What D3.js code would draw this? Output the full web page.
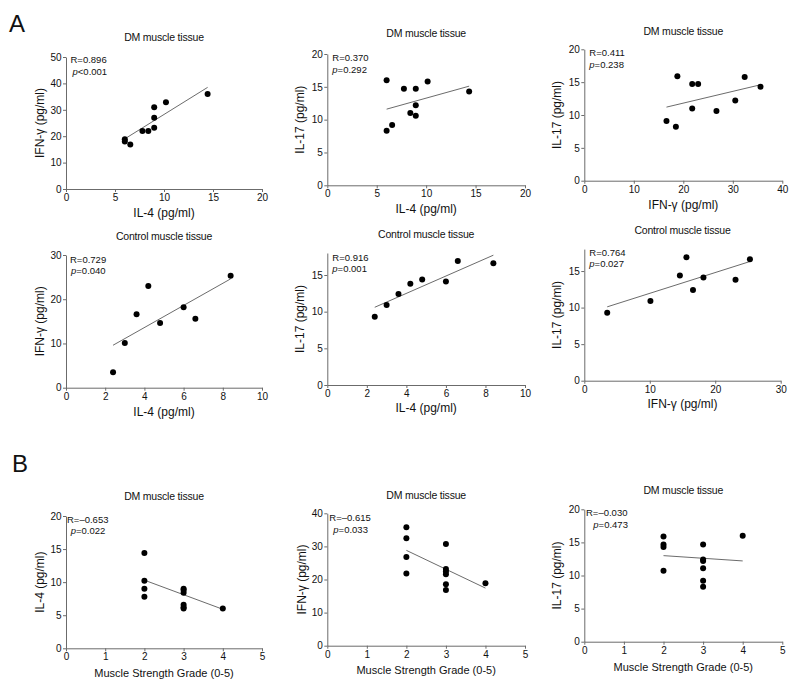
<!DOCTYPE html>
<html>
<head>
<meta charset="utf-8">
<script src="https://cdn.jsdelivr.net/npm/d3@7"></script>
<style>
  html, body { margin: 0; padding: 0; background: #fff; }
  svg { display: block; font-family: Arial, "Liberation Sans", Helvetica, sans-serif; }
</style>
</head>
<body>
<svg id="chart" width="800" height="699"></svg>
<script>
// ---------------- DATA ----------------
const panelTitles = ["DM muscle tissue", "DM muscle tissue", "DM muscle tissue",
  "Control muscle tissue", "Control muscle tissue", "Control muscle tissue",
  "DM muscle tissue", "DM muscle tissue", "DM muscle tissue"];
const xLabels = ["IL-4 (pg/ml)", "IL-4 (pg/ml)", "IFN-\u03b3 (pg/ml)",
  "IL-4 (pg/ml)", "IL-4 (pg/ml)", "IFN-\u03b3 (pg/ml)",
  "Muscle Strength Grade (0-5)", "Muscle Strength Grade (0-5)", "Muscle Strength Grade (0-5)"];
const yLabels = ["IFN-\u03b3 (pg/ml)", "IL-17 (pg/ml)", "IL-17 (pg/ml)",
  "IFN-\u03b3 (pg/ml)", "IL-17 (pg/ml)", "IL-17 (pg/ml)",
  "IL-4 (pg/ml)", "IFN-\u03b3 (pg/ml)", "IL-17 (pg/ml)"];
const rTexts = ["R=0.896", "R=0.370", "R=0.411", "R=0.729", "R=0.916", "R=0.764",
  "R=\u20130.653", "R=\u20130.615", "R=\u20130.030"];
const pOps = ["<", "=", "=", "=", "=", "=", "=", "=", "="];
const pVals = ["0.001", "0.292", "0.238", "0.040", "0.001", "0.027", "0.022", "0.033", "0.473"];

// axis domains and tick labels
const xMax = [20, 20, 40, 10, 10, 30, 5, 5, 5];
const yMax = [50, 20, 20, 30, 18, 18, 20, 40, 20];
const xTicks = [[0,5,10,15,20],[0,5,10,15,20],[0,10,20,30,40],
  [0,2,4,6,8,10],[0,2,4,6,8,10],[0,10,20,30],
  [0,1,2,3,4,5],[0,1,2,3,4,5],[0,1,2,3,4,5]];
const yTicks = [[0,10,20,30,40,50],[0,5,10,15,20],[0,5,10,15,20],
  [0,10,20,30],[0,5,10,15],[0,5,10,15],
  [0,5,10,15,20],[0,10,20,30,40],[0,5,10,15,20]];

// A1: DM, IL-4 vs IFN-gamma
const dmIL4_a = [6.0, 6.0, 6.56, 7.8, 8.4, 9.0, 9.0, 9.0, 10.2, 14.45];
const dmIFN_a = [18.8, 18.0, 16.9, 22.0, 22.0, 23.2, 27.0, 31.0, 32.9, 36.0];
// A2: DM, IL-4 vs IL-17
const dmIL4_b = [6.0, 6.0, 6.56, 7.75, 8.4, 8.95, 8.95, 8.95, 10.15, 14.35];
const dmIL17_b = [16.0, 8.3, 9.2, 14.7, 11.0, 14.7, 12.2, 10.6, 15.8, 14.3];
// A3: DM, IFN-gamma vs IL-17
const dmIFN_c = [16.6, 18.5, 18.8, 21.8, 21.8, 23.0, 26.7, 30.5, 32.4, 35.6];
const dmIL17_c = [9.1, 8.2, 15.9, 14.7, 11.0, 14.7, 10.6, 12.2, 15.8, 14.3];
// A4: Control, IL-4 vs IFN-gamma
const ctIL4_a = [2.4, 3.0, 3.6, 4.2, 4.8, 6.0, 6.6, 8.4];
const ctIFN_a = [3.5, 10.1, 16.6, 23.0, 14.6, 18.2, 15.6, 25.3];
// A5: Control, IL-4 vs IL-17
const ctIL4_b = [2.4, 3.0, 3.6, 4.2, 4.8, 6.0, 6.6, 8.4];
const ctIL17_b = [9.3, 10.9, 12.4, 13.8, 14.4, 14.1, 16.9, 16.6];
// A6: Control, IFN-gamma vs IL-17
const ctIFN_c = [3.5, 10.1, 14.6, 15.6, 16.6, 18.2, 23.1, 25.3];
const ctIL17_c = [9.3, 10.9, 14.4, 16.9, 12.4, 14.1, 13.8, 16.6];
// B: muscle strength grade vs cytokines (DM)
const grade = [2, 2, 2, 2, 3, 3, 3, 3, 3, 3, 4];
const gIL4 = [14.4, 10.2, 9.0, 7.8, 9.0, 8.8, 8.4, 6.6, 6.2, 6.0, 6.0];
const gIFN = [35.8, 32.5, 26.8, 21.8, 30.7, 23.2, 22.4, 21.6, 18.6, 16.8, 18.9];
const gIL17 = [15.9, 14.7, 14.3, 10.7, 14.7, 12.4, 12.2, 11.1, 9.2, 8.3, 16.0];

// fitted regression lines [x0, y0, x1, y1]
const fitLines = [
  [6.0, 19.0, 14.45, 38.5],
  [6.0, 11.6, 14.35, 15.1],
  [16.6, 11.2, 35.6, 14.6],
  [2.4, 9.6, 8.4, 24.6],
  [2.4, 10.6, 8.4, 17.7],
  [3.5, 10.1, 25.3, 16.3],
  [2, 10.3, 4, 5.9],
  [2, 28.8, 4, 17.4],
  [2, 13.0, 4, 12.2]
];

const seriesX = [dmIL4_a, dmIL4_b, dmIFN_c, ctIL4_a, ctIL4_b, ctIFN_c, grade, grade, grade];
const seriesY = [dmIFN_a, dmIL17_b, dmIL17_c, ctIFN_a, ctIL17_b, ctIL17_c, gIL4, gIFN, gIL17];

// ---------------- LAYOUT (pixels) ----------------
const layout = [
  {l:66,    r:262,   t:57,    b:189,   titleY:37,    rX:70.5,  rY:60,    pX:72.5,  pY:71.5,  ylX:40,    xlY:213,   xlSize:12},
  {l:327.3, r:525,   t:54,    b:185.3, titleY:33.5,  rX:332.3, rY:57.5,  pX:332.3, pY:69.3,  ylX:299.5, xlY:209,   xlSize:12},
  {l:584.3, r:782.3, t:49.3,  b:180.7, titleY:31,    rX:589.3, rY:52.7,  pX:589.3, pY:65,    ylX:557,   xlY:205,   xlSize:12},
  {l:66,    r:262,   t:255,   b:387.7, titleY:236.7, rX:70,    rY:259.3, pX:71,    pY:270.7, ylX:40,    xlY:412,   xlSize:12},
  {l:327.3, r:525,   t:253,   b:385,   titleY:234.3, rX:332.3, rY:257.3, pX:332.3, pY:268.3, ylX:299.5, xlY:408,   xlSize:12},
  {l:584.3, r:780.7, t:249.1, b:380.7, titleY:230,   rX:589.3, rY:252.7, pX:589.3, pY:264,   ylX:557,   xlY:404,   xlSize:12},
  {l:66,    r:262,   t:516,   b:648.3, titleY:496.7, rX:67,    rY:520,   pX:70.7,  pY:531,   ylX:39.5,  xlY:672.7, xlSize:11},
  {l:327.3, r:525,   t:513.3, b:645.7, titleY:495,   rX:329.3, rY:517.7, pX:333.3, pY:529.3, ylX:301.7, xlY:670,   xlSize:11},
  {l:584.3, r:782.3, t:509.3, b:641.7, titleY:490,   rX:586,   rY:512.7, pX:593.3, pY:524.3, ylX:556.7, xlY:666.7, xlSize:11}
];

const axisColor = "#6b6b6b";
const svg = d3.select("#chart");

// section letters
svg.append("text").attr("x", 9).attr("y", 32).attr("font-size", 24).attr("fill", "#111").text("A");
svg.append("text").attr("x", 12).attr("y", 472).attr("font-size", 24).attr("fill", "#111").text("B");

layout.forEach((L, i) => {
  const g = svg.append("g");
  const x = d3.scaleLinear().domain([0, xMax[i]]).range([L.l, L.r]);
  const y = d3.scaleLinear().domain([0, yMax[i]]).range([L.b, L.t]);

  // x axis
  const xa = g.append("g").attr("transform", `translate(0,${L.b})`)
    .call(d3.axisBottom(x).tickValues(xTicks[i]).tickFormat(d3.format("d")).tickSize(3).tickSizeOuter(0).tickPadding(2));
  // y axis
  const ya = g.append("g").attr("transform", `translate(${L.l},0)`)
    .call(d3.axisLeft(y).tickValues(yTicks[i]).tickFormat(d3.format("d")).tickSize(3).tickSizeOuter(0).tickPadding(1.5));
  [xa, ya].forEach(a => {
    a.select(".domain").attr("stroke", axisColor).attr("stroke-width", 1);
    a.selectAll(".tick line").attr("stroke", axisColor).attr("stroke-width", 1);
    a.selectAll(".tick text").attr("fill", "#111").attr("font-size", 10)
      .attr("font-family", "Arial, 'Liberation Sans', sans-serif");
  });

  // title
  g.append("text").attr("x", (L.l + L.r) / 2).attr("y", L.titleY).attr("dy", "0.35em")
    .attr("text-anchor", "middle").attr("font-size", 10.5).attr("fill", "#111")
    .attr("letter-spacing", -0.2).text(panelTitles[i]);

  // axis labels
  g.append("text").attr("x", (L.l + L.r) / 2).attr("y", L.xlY).attr("dy", "0.35em")
    .attr("text-anchor", "middle").attr("font-size", L.xlSize).attr("fill", "#111").text(xLabels[i]);
  g.append("text").attr("transform", `translate(${L.ylX},${(L.t + L.b) / 2}) rotate(-90)`)
    .attr("dy", "0.35em").attr("text-anchor", "middle").attr("font-size", 12).attr("fill", "#111")
    .text(yLabels[i]);

  // stats text
  g.append("text").attr("x", L.rX).attr("y", L.rY).attr("dy", "0.35em")
    .attr("font-size", 9.5).attr("fill", "#111").text(rTexts[i]);
  const pt = g.append("text").attr("x", L.pX).attr("y", L.pY).attr("dy", "0.35em")
    .attr("font-size", 9.5).attr("fill", "#111");
  pt.append("tspan").attr("font-style", "italic").text("p");
  pt.append("tspan").text(pOps[i] + pVals[i]);

  // regression line
  const f = fitLines[i];
  g.append("line")
    .attr("x1", x(f[0])).attr("y1", y(f[1])).attr("x2", x(f[2])).attr("y2", y(f[3]))
    .attr("stroke", "#5a5a5a").attr("stroke-width", 0.9);

  // points
  const pts = seriesX[i].map((v, k) => [v, seriesY[i][k]]);
  g.selectAll("circle.pt").data(pts).enter().append("circle")
    .attr("class", "pt")
    .attr("cx", d => x(d[0])).attr("cy", d => y(d[1])).attr("r", 3)
    .attr("fill", "#000");
});
</script>
</body>
</html>
